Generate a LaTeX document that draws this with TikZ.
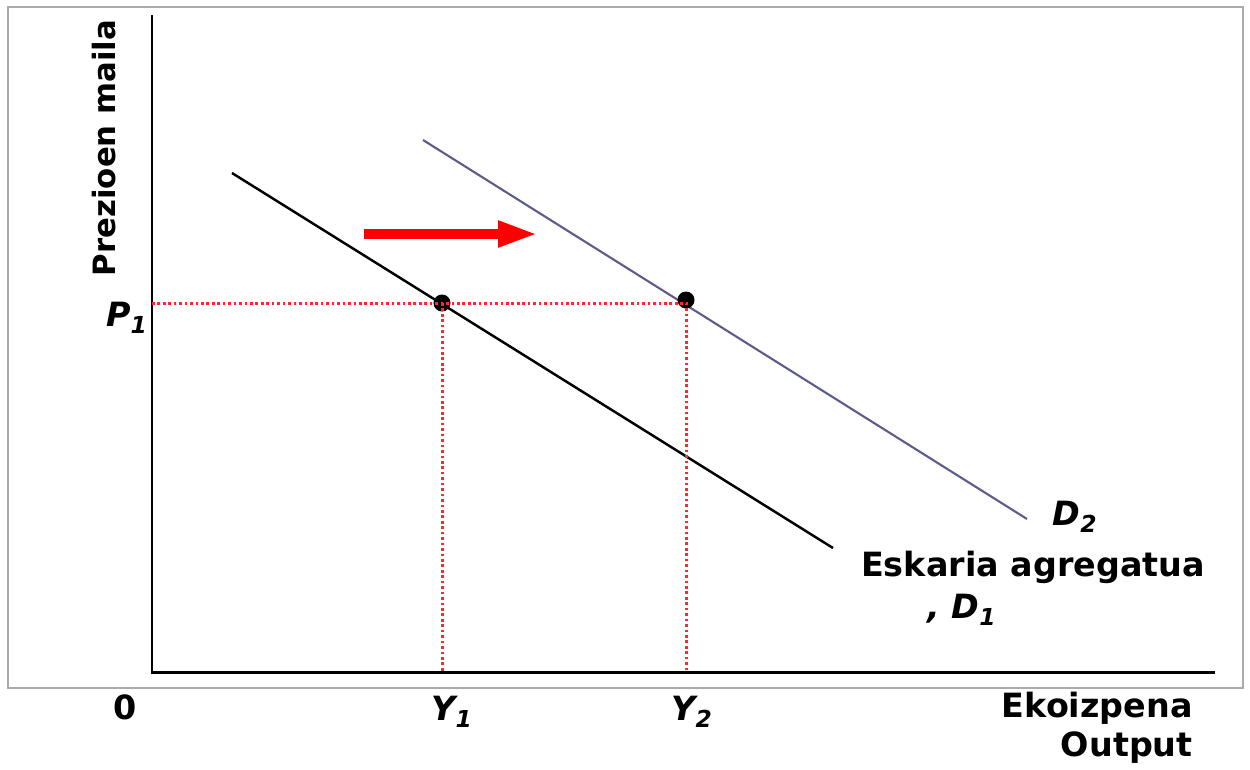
\documentclass[tikz,border=0pt]{standalone}
\usepackage{fontspec}
\setmainfont{DejaVu Sans}
\usepackage{tikz}
\usetikzlibrary{positioning,arrows.meta}
\definecolor{framec}{RGB}{170,170,170}
\definecolor{shiftc}{RGB}{92,92,140}
\definecolor{guidec}{RGB}{255,40,40}
\tikzset{
  axis/.style     = {line width=1.7pt, draw=black},
  demand/.style   = {line width=1.4pt, draw=black},
  shifted/.style  = {line width=1.2pt, draw=shiftc},
  guide/.style    = {line width=1.7pt, draw=guidec, dash pattern=on 1.5pt off 1.6pt},
  push/.style     = {-{Triangle[length=0.8cm,width=0.48cm]}, line width=0.2cm, draw=red},
  eq/.style       = {circle, fill=black, inner sep=0pt, minimum size=0.34cm},
  lbl/.style      = {font=\fontsize{19}{22}\selectfont\bfseries, align=center, inner sep=0pt},
  sym/.style      = {font=\fontsize{19}{22}\selectfont\bfseries\itshape, inner sep=0pt},
}
\begin{document}
\begin{tikzpicture}[x=0.02cm, y=-0.02cm]
\useasboundingbox (0,0) rectangle (1250,769);

% frame and axes
\draw[framec, line width=1.2pt] (8,7) rectangle (1243,688);
\coordinate (origin) at (152,672);
\coordinate (ytop) at (152,15);
\coordinate (xend) at (1215,672);
\draw[axis] (ytop) -- (origin) -- (xend);

% demand curves
\coordinate (d1a) at (232,173);
\coordinate (d1b) at (833,548);
\coordinate (d2a) at (423,140);
\coordinate (d2b) at (1027,519);
\draw[demand] (d1a) -- (d1b);
\draw[shifted] (d2a) -- (d2b);

% equilibria and guides
\node[eq] (e1) at (442,303) {};
\node[eq] (e2) at (686,300) {};
\coordinate (p1) at (152,303);
\coordinate (y1) at (442,672);
\coordinate (y2) at (686,672);
\draw[guide] (p1) -- (e1.center) -- (686,303) -- (y2);
\draw[guide] (e1.center) -- (y1);

% shift arrow
\coordinate (sa) at (364,234);
\coordinate (sb) at (538,234);
\draw[push] (sa) -- (sb);

% labels
\node[lbl, rotate=90, font=\fontsize{17.5}{20}\selectfont\bfseries] (ylab) at (104,148) {Prezioen maila};
\node[sym] (lp1) at (127,318) {P\textsubscript{1}};
\node[lbl] (l0) at (125,707) {0};
\node[sym] (ly1) at (452,712) {Y\textsubscript{1}};
\node[sym] (ly2) at (692,712) {Y\textsubscript{2}};
\node[lbl, align=right, anchor=north east] (xlab) at (1193,692) {Ekoizpena\\Output};
\node[sym] (ld2) at (1075,517) {D\textsubscript{2}};
\node[lbl] (ld1) at (1033,567) {Eskaria agregatua};
\node[sym] (ld1b) at (962,610) {, D\textsubscript{1}};

\end{tikzpicture}
\end{document}
